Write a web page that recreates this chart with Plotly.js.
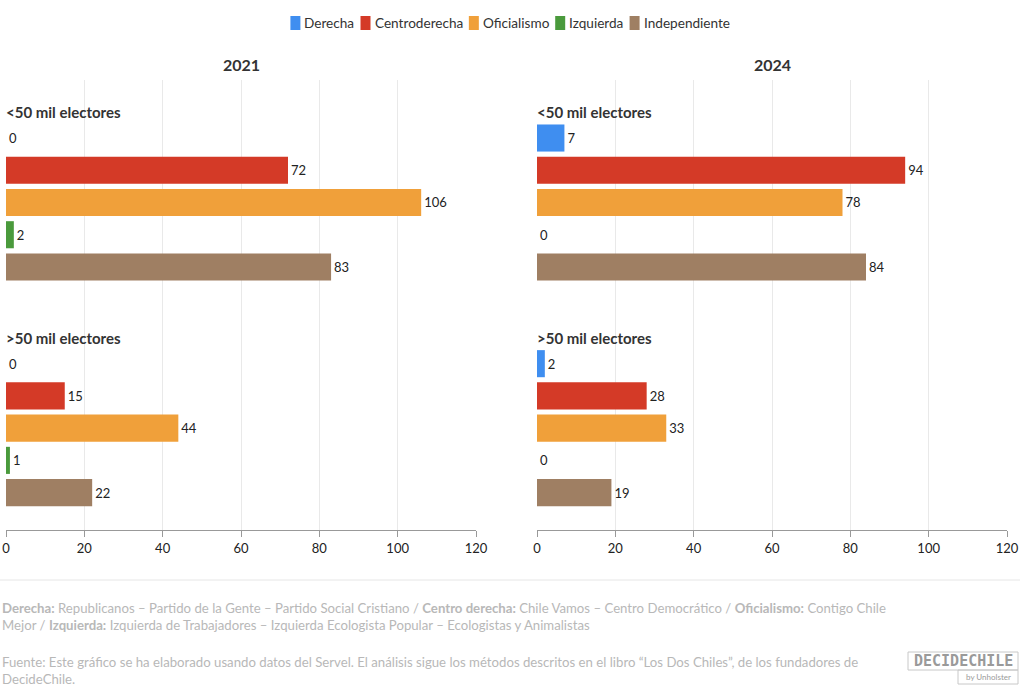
<!DOCTYPE html>
<html>
<head>
<meta charset="utf-8">
<script src="https://cdn.plot.ly/plotly-3.0.1.min.js"></script>
<style>
html,body{margin:0;padding:0;background:#fff;}
#chart{width:1020px;height:688px;}
</style>
</head>
<body>
<div id="chart"></div>
<script>
// ---- data ----
const years = ['2021', '2024'];
const groups = ['<50 mil electores', '>50 mil electores'];
const categories = ['Derecha', 'Centroderecha', 'Oficialismo', 'Izquierda', 'Independiente'];
const colors = ['#3f8ef0', '#d43a27', '#f0a03a', '#4a9a3c', '#9f7f63'];
// values per category: [<50 mil, >50 mil]
const v2021_lt50 = [0, 72, 106, 2, 83];
const v2021_gt50 = [0, 15, 44, 1, 22];
const v2024_lt50 = [7, 94, 78, 0, 84];
const v2024_gt50 = [2, 28, 33, 0, 19];
const xTicks = [0, 20, 40, 60, 80, 100, 120];

const FONT = 'Lato, "Open Sans", sans-serif';
const groupGap = 7; // slots between group starts
const traces = [];
const yearData = [[v2021_lt50, v2021_gt50], [v2024_lt50, v2024_gt50]];
yearData.forEach((yd, yi) => {
  categories.forEach((cat, ci) => {
    const xs = [yd[0][ci], yd[1][ci]];
    const ys = [ci, ci + groupGap];
    traces.push({
      type: 'bar', orientation: 'h',
      x: xs, y: ys,
      name: cat, legendgroup: cat, showlegend: false,
      marker: {color: colors[ci]},
      width: 0.84,
      text: xs.map(String), textposition: 'outside', cliponaxis: false,
      textfont: {family: FONT, size: 13, color: '#222'},
      xaxis: yi === 0 ? 'x' : 'x2', yaxis: yi === 0 ? 'y' : 'y2',
      hoverinfo: 'x+name'
    });
  });
});

const xAxisBase = {
  range: [0, 120], tickvals: xTicks, showgrid: true, gridcolor: '#e9e9e9',
  zeroline: false, showline: true, linecolor: '#999', linewidth: 1,
  ticks: 'outside', ticklen: 6, tickcolor: '#999',
  tickfont: {family: FONT, size: 13, color: '#222'}, fixedrange: true
};
const yAxisBase = {
  range: [12.16, -1.8], showticklabels: false, showgrid: false, zeroline: false,
  showline: false, ticks: '', fixedrange: true
};

const px = v => (v - 6) / 1001;
const py = v => (530 - v) / 450;

const annotations = [];
const shapes = [];

// manual legend (compact, centered)
const legFontSize = 13.6;
const ctx = document.createElement('canvas').getContext('2d');
ctx.font = legFontSize + 'px Lato';
const sw = 10, swGap = 4, itemGap = 6;
const widths = categories.map(c => ctx.measureText(c).width);
const total = widths.reduce((a, w) => a + sw + swGap + w, 0) + itemGap * (categories.length - 1);
let cx = 510 - total / 2;
categories.forEach((c, i) => {
  shapes.push({type: 'rect', xref: 'paper', yref: 'paper', x0: px(cx), x1: px(cx + sw),
    y0: py(30), y1: py(16), fillcolor: colors[i], line: {width: 0}});
  annotations.push({text: c, xref: 'paper', yref: 'paper', x: px(cx + sw + swGap), y: py(23),
    xanchor: 'left', yanchor: 'middle', showarrow: false, xshift: -2,
    font: {family: FONT, size: legFontSize, color: '#333'}});
  cx += sw + swGap + widths[i] + itemGap;
});

years.forEach((yr, yi) => {
  const xr = yi === 0 ? 'x domain' : 'x2 domain';
  const yr_ = yi === 0 ? 'y' : 'y2';
  annotations.push({text: '<b>' + yr + '</b>', xref: xr, yref: 'paper', x: 0.5, y: py(65),
    xanchor: 'center', yanchor: 'middle', showarrow: false,
    font: {family: FONT, size: 16, color: '#333'}});
  groups.forEach((g, gi) => {
    annotations.push({text: '<b>' + g.replace('<', '&lt;').replace('>', '&gt;') + '</b>',
      xref: xr, yref: yr_, x: 0, y: gi * groupGap - 0.8, xanchor: 'left', yanchor: 'middle',
      showarrow: false, xshift: -2, font: {family: FONT, size: 15, color: '#333'}});
  });
});

annotations.push({
  text: '<b>Derecha:</b> Republicanos – Partido de la Gente – Partido Social Cristiano / <b>Centro derecha:</b> Chile Vamos – Centro Democrático / <b>Oficialismo:</b> Contigo Chile<br>Mejor / <b>Izquierda:</b> Izquierda de Trabajadores – Izquierda Ecologista Popular – Ecologistas y Animalistas',
  xref: 'paper', yref: 'paper', x: px(0), y: py(598), xanchor: 'left', yanchor: 'top', align: 'left',
  showarrow: false, font: {family: FONT, size: 13.2, color: '#b8b8b8'}
});
annotations.push({
  text: 'Fuente: Este gráfico se ha elaborado usando datos del Servel. El análisis sigue los métodos descritos en el libro “Los Dos Chiles”, de los fundadores de<br>DecideChile.',
  xref: 'paper', yref: 'paper', x: px(0), y: py(652), xanchor: 'left', yanchor: 'top', align: 'left',
  showarrow: false, font: {family: FONT, size: 13.2, color: '#b8b8b8'}
});
// logo
annotations.push({text: '<b>DECIDECHILE</b>', xref: 'paper', yref: 'paper',
  x: px(963), y: py(661), xanchor: 'center', yanchor: 'middle', showarrow: false,
  font: {family: '"DejaVu Sans Mono", monospace', size: 15, color: '#9a9a9a'}});
annotations.push({text: 'by Unholster', xref: 'paper', yref: 'paper',
  x: px(988), y: py(677), xanchor: 'center', yanchor: 'middle', showarrow: false,
  font: {family: FONT, size: 8, color: '#9a9a9a'}});

shapes.push(
  {type: 'line', xref: 'paper', yref: 'paper', x0: px(0), x1: px(1020), y0: py(580), y1: py(580),
   line: {color: '#e6e6e6', width: 1}},
  {type: 'rect', xref: 'paper', yref: 'paper', x0: px(908), x1: px(1018), y0: py(652), y1: py(670),
   line: {color: '#c8c8c8', width: 1}},
  {type: 'rect', xref: 'paper', yref: 'paper', x0: px(958), x1: px(1018), y0: py(670), y1: py(684),
   line: {color: '#c8c8c8', width: 1}}
);

const layout = {
  width: 1020, height: 688,
  margin: {l: 6, r: 13, t: 80, b: 158},
  paper_bgcolor: '#fff', plot_bgcolor: '#fff',
  barmode: 'overlay',
  showlegend: false,
  xaxis: Object.assign({}, xAxisBase, {domain: [0, 470/1001], anchor: 'y'}),
  xaxis2: Object.assign({}, xAxisBase, {domain: [531/1001, 1], anchor: 'y2'}),
  yaxis: Object.assign({}, yAxisBase, {domain: [0, 1], anchor: 'x'}),
  yaxis2: Object.assign({}, yAxisBase, {domain: [0, 1], anchor: 'x2'}),
  annotations: annotations,
  shapes: shapes,
  font: {family: FONT}
};

Plotly.newPlot('chart', traces, layout, {displayModeBar: false, responsive: false});
</script>
</body>
</html>
